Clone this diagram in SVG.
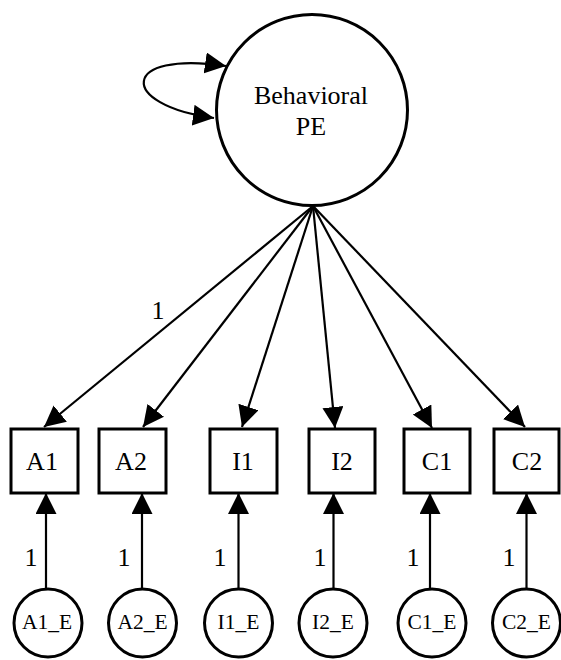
<svg xmlns="http://www.w3.org/2000/svg" width="561" height="660" viewBox="0 0 561 660">
<style>
  .node { fill: #fff; stroke: #000; stroke-width: 3; }
  .edge { fill: none; stroke: #000; stroke-width: 2.2; }
  .t { font-family: "Liberation Serif", "Times New Roman", serif; fill: #000; text-anchor: middle; }
  .big { font-size: 26px; }
  .mid { font-size: 26px; }
  .sm { font-size: 21.5px; }
</style>
<defs>
  <marker id="arr" markerUnits="userSpaceOnUse" markerWidth="22" markerHeight="22" refX="21" refY="10.5" orient="auto-start-reverse" viewBox="0 0 22 22">
    <path d="M0,0 L21,10.5 L0,21 z" fill="#000"/>
  </marker>
</defs>
<rect width="561" height="660" fill="#fff"/>

<g id="connectors">
  <path class="edge" d="M226,66 C120,50 117,105 214,118" marker-start="url(#arr)" marker-end="url(#arr)"/>
  <line class="edge" x1="313" y1="206" x2="44" y2="427" marker-end="url(#arr)"/>
  <line class="edge" x1="313" y1="206" x2="143" y2="427" marker-end="url(#arr)"/>
  <line class="edge" x1="313" y1="206" x2="242" y2="427" marker-end="url(#arr)"/>
  <line class="edge" x1="313" y1="206" x2="335" y2="428" marker-end="url(#arr)"/>
  <line class="edge" x1="313" y1="206" x2="432" y2="428" marker-end="url(#arr)"/>
  <line class="edge" x1="313" y1="206" x2="525" y2="427" marker-end="url(#arr)"/>
  <line class="edge" x1="46" y1="589" x2="46" y2="493" marker-end="url(#arr)"/>
  <line class="edge" x1="142" y1="589" x2="142" y2="493" marker-end="url(#arr)"/>
  <line class="edge" x1="238.5" y1="589" x2="238.5" y2="493" marker-end="url(#arr)"/>
  <line class="edge" x1="333.5" y1="589" x2="333.5" y2="493" marker-end="url(#arr)"/>
  <line class="edge" x1="430" y1="589" x2="430" y2="493" marker-end="url(#arr)"/>
  <line class="edge" x1="526.5" y1="589" x2="526.5" y2="493" marker-end="url(#arr)"/>
  <text class="t big" x="158" y="319">1</text>
  <text class="t mid" x="31" y="566">1</text>
  <text class="t mid" x="124" y="566">1</text>
  <text class="t mid" x="220" y="566">1</text>
  <text class="t mid" x="320" y="566">1</text>
  <text class="t mid" x="413" y="566">1</text>
  <text class="t mid" x="509" y="566">1</text>
</g>

<g id="BehavioralPE">
  <circle class="node" cx="312" cy="110" r="95.5"/>
  <text class="t big" x="311" y="104">Behavioral</text>
  <text class="t big" x="311" y="135">PE</text>
</g>

<g id="A1"><rect class="node" x="11" y="429" width="67" height="64"/><text class="t big" x="42" y="470">A1</text></g>
<g id="A2"><rect class="node" x="99" y="429" width="67" height="64"/><text class="t big" x="131" y="470">A2</text></g>
<g id="I1"><rect class="node" x="210" y="429" width="67" height="64"/><text class="t big" x="243" y="470">I1</text></g>
<g id="I2"><rect class="node" x="309" y="429" width="66" height="64"/><text class="t big" x="342" y="470">I2</text></g>
<g id="C1"><rect class="node" x="404" y="429" width="66" height="64"/><text class="t big" x="437" y="470">C1</text></g>
<g id="C2"><rect class="node" x="494" y="429" width="65" height="64"/><text class="t big" x="527" y="470">C2</text></g>

<g id="A1_E"><circle class="node" cx="48" cy="623" r="34"/><text class="t sm" x="47" y="629">A1_E</text></g>
<g id="A2_E"><circle class="node" cx="142.5" cy="623" r="34"/><text class="t sm" x="142.5" y="629">A2_E</text></g>
<g id="I1_E"><circle class="node" cx="238.5" cy="623" r="34"/><text class="t sm" x="238.5" y="629">I1_E</text></g>
<g id="I2_E"><circle class="node" cx="333" cy="623" r="34"/><text class="t sm" x="333" y="629">I2_E</text></g>
<g id="C1_E"><circle class="node" cx="432" cy="623" r="34"/><text class="t sm" x="432" y="629">C1_E</text></g>
<g id="C2_E"><circle class="node" cx="526.5" cy="623" r="34"/><text class="t sm" x="526.5" y="629">C2_E</text></g>
</svg>
